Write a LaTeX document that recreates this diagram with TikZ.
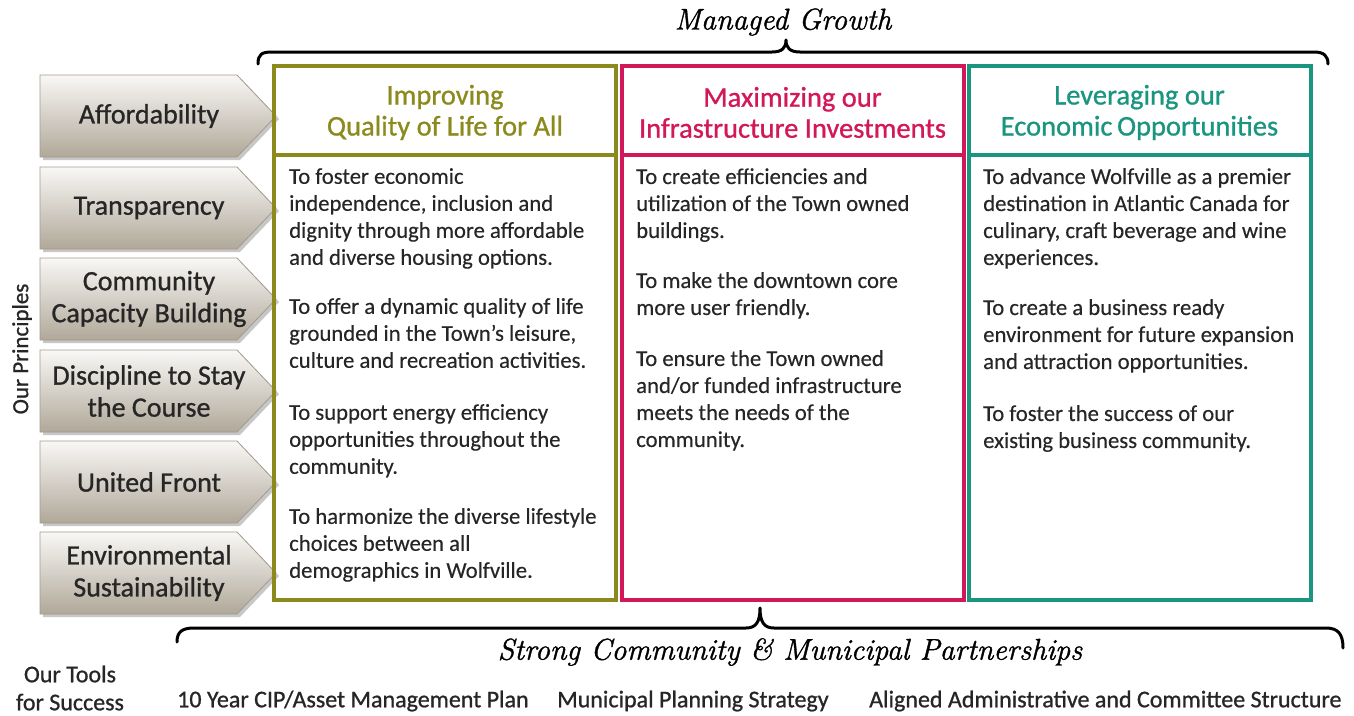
\documentclass[tikz,border=0pt]{standalone}
\usepackage{fontspec}
\setmainfont{Carlito}
\newfontfamily\medfont[FakeBold=0.9]{Carlito}
\newfontfamily\bodyfont[FakeBold=0.3]{Carlito}
\newfontfamily\handfont[FakeBold=1.2]{Latin Modern Roman}
\usetikzlibrary{calc}
\definecolor{olv}{HTML}{8C8A1C}
\definecolor{crm}{HTML}{D3185A}
\definecolor{tel}{HTML}{1A9580}
\definecolor{chevb}{HTML}{B0A899}
\definecolor{chevt}{HTML}{F9F8F6}
\definecolor{chevd}{HTML}{A39A8B}
\definecolor{txt}{HTML}{262626}
\tikzset{
  chevtext/.style={font=\medfont\fontsize{28}{32}\selectfont, text=txt, align=center, inner sep=0},
  colbox/.style={draw=#1, line width=4pt, minimum width=342pt, inner sep=0},
  headtext/.style={font=\medfont\fontsize{28.5}{31}\selectfont, text=#1, align=center, inner sep=0},
  bodytext/.style={font=\bodyfont\fontsize{22.7}{27}\selectfont, text=txt, align=left, inner sep=0, anchor=north west},
  brace/.style={line width=3pt, line cap=round, line join=round},
  scripttext/.style={font=\handfont\itshape\fontsize{30}{36}\selectfont, inner sep=0},
  tooltext/.style={font=\medfont\fontsize{24}{28}\selectfont, text=txt, inner sep=0, align=center},
}
\newcommand\chevron[3]{%
  \fill[black!22] (43,#2+3) -- (240,#2+3) -- (279,#2+44) -- (240,#2+85) -- (43,#2+85) -- cycle;
  \path[top color=chevt, bottom color=chevb, draw=chevd, line width=0.8pt]
    (40,#2) -- (237,#2) -- (276,#2+41) -- (237,#2+82) -- (40,#2+82) -- cycle;
  \node[chevtext] (#1) at (149,#2+41) {#3};
}
\begin{document}
\begin{tikzpicture}[x=1pt,y=-1pt]
\useasboundingbox (0,0) rectangle (1354,715);

% chevrons
\chevron{p1}{75}{Affordability}
\chevron{p2}{167}{Transparency}
\chevron{p3}{258}{Community\\Capacity Building}
\chevron{p4}{350}{Discipline to Stay\\the Course}
\chevron{p5}{441}{United Front}
\chevron{p6}{532}{Environmental\\Sustainability}
\node[rotate=90, font=\medfont\fontsize{23}{26}\selectfont, text=txt, inner sep=0] (princ) at (22,349) {Our Principles};

% column boxes
\node[colbox=olv, minimum height=89pt] (h1) at (445,110.5) {};
\node[colbox=olv, minimum height=445pt] (b1) at (445,377.5) {};
\node[colbox=crm, minimum height=89pt] (h2) at (792.5,110.5) {};
\node[colbox=crm, minimum height=445pt] (b2) at (792.5,377.5) {};
\node[colbox=tel, minimum height=89pt] (h3) at (1139.5,110.5) {};
\node[colbox=tel, minimum height=445pt] (b3) at (1139.5,377.5) {};

\node[headtext=olv] (t1) at ($(h1.center)+(0,2)$) {Improving\\Quality of Life for All};
\node[headtext=crm] (t2) at ($(h2.center)+(0,2)$) {Maximizing our\\Infrastructure Investments};
\node[headtext=tel] (t3) at ($(h3.center)+(0,2)$) {Leveraging our\\Economic\,Opportunities};

\node[bodytext] (x1) at (289,168) {To foster economic\\independence, inclusion and\\dignity through more affordable\\and diverse housing options.\\[22pt]To offer a dynamic quality of life\\grounded in the Town’s leisure,\\culture and recreation activities.\\[25pt]To support energy efficiency\\opportunities throughout the\\community.\\[23pt]To harmonize the diverse lifestyle\\choices between all\\demographics in Wolfville.};
\node[bodytext] (x2) at (636,168) {To create efficiencies and\\utilization of the Town owned\\buildings.\\[23pt]To make the downtown core\\more user friendly.\\[24pt]To ensure the Town owned\\and/or funded infrastructure\\meets the needs of the\\community.};
\node[bodytext] (x3) at (983,168) {To advance Wolfville as a premier\\destination in Atlantic Canada for\\culinary, craft beverage and wine\\experiences.\\[23pt]To create a business ready\\environment for future expansion\\and attraction opportunities.\\[25pt]To foster the success of our\\existing business community.};

% top brace
\coordinate (tb1) at (258,64);
\coordinate (tb2) at (1328,64);
\coordinate (ttip) at (786,40);
\draw[brace] (tb1) .. controls (258,54) and (262,52) .. (272,52) -- (772,52)
  .. controls (782,52) and (786,48) .. (ttip)
  .. controls (786,48) and (790,52) .. (800,52) -- (1314,52)
  .. controls (1324,52) and (1328,56) .. (tb2);
\node[scripttext] (mg) at (783,22) {Managed Growth};

% bottom brace
\coordinate (bb1) at (177,642);
\coordinate (bb2) at (1343,648);
\coordinate (btip) at (760,608);
\draw[brace] (bb1) .. controls (177,632) and (182,628) .. (194,628) -- (746,628)
  .. controls (756,628) and (760,622) .. (btip)
  .. controls (760,622) and (764,628) .. (774,628) -- (1326,628)
  .. controls (1338,628) and (1343,634) .. (bb2);
\node[scripttext] (sc) at (790,652) {Strong Community \& Municipal Partnerships};

% tools
\node[tooltext] (tools) at (70,688) {Our Tools\\for Success};
\node[tooltext, anchor=west] (tl1) at (177,701) {10 Year CIP/Asset Management Plan};
\node[tooltext, anchor=west] (tl2) at (557,701) {Municipal Planning Strategy};
\node[tooltext, anchor=west] (tl3) at (869,701) {Aligned Administrative and Committee Structure};
\end{tikzpicture}
\end{document}
